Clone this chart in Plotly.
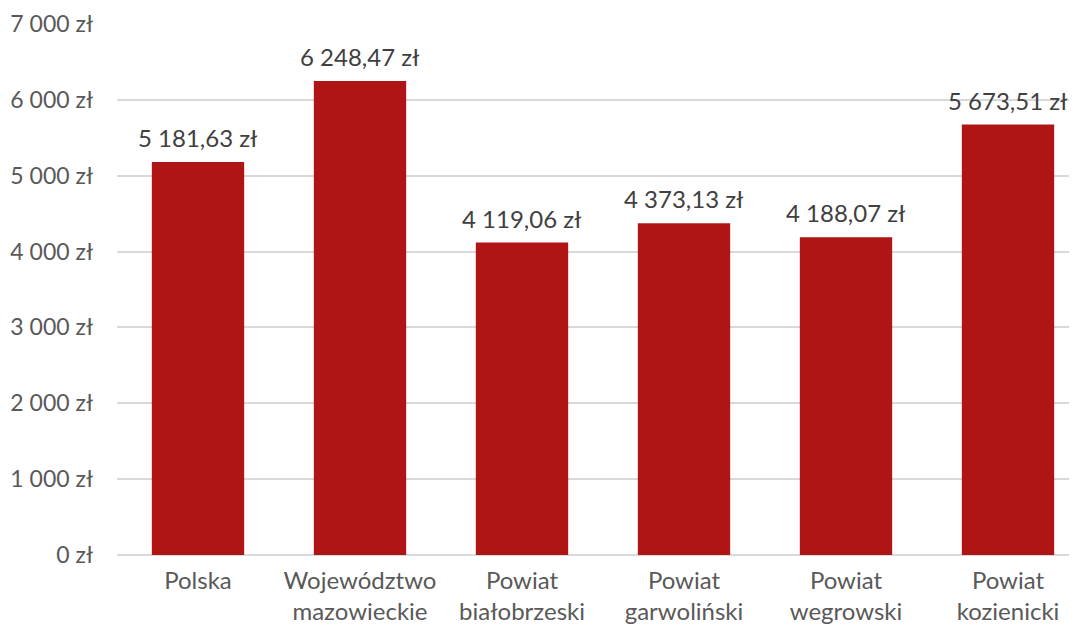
import plotly.graph_objects as go

categories = ["Polska", "Województwo<br>mazowieckie", "Powiat<br>białobrzeski",
              "Powiat<br>garwoliński", "Powiat<br>wegrowski", "Powiat<br>kozienicki"]
values = [5181.63, 6248.47, 4119.06, 4373.13, 4188.07, 5673.51]
tick_vals = [0, 1000, 2000, 3000, 4000, 5000, 6000, 7000]
tick_text = ["0 zł", "1 000 zł", "2 000 zł", "3 000 zł", "4 000 zł", "5 000 zł", "6 000 zł", "7 000 zł"]


def fmt(v):
    s = f"{v:,.2f}"
    return s.replace(",", " ").replace(".", ",") + " zł"


labels = [fmt(v) for v in values]
xs = list(range(len(categories)))

fig = go.Figure(go.Bar(
    x=xs, y=values,
    marker=dict(color="#AF1515", line=dict(width=0)),
    width=0.57, hoverinfo="skip",
))

for xi, v, lab in zip(xs, values, labels):
    fig.add_annotation(
        x=xi, y=v, xref="x", yref="y", text=lab, showarrow=False,
        yanchor="bottom", yshift=8,
        font=dict(family="Lato", size=24, color="#404040"),
    )

fig.update_layout(
    width=1069, height=618,
    margin=dict(l=109, r=0, t=16, b=71, autoexpand=False),
    paper_bgcolor="white", plot_bgcolor="white",
    font=dict(family="Lato", size=24, color="#595959"),
    showlegend=False,
)
fig.update_xaxes(
    tickvals=xs, ticktext=categories,
    range=[-0.5, -0.5 + 960 / 162], showgrid=False, zeroline=False,
    showline=False, ticks="", ticklabelstandoff=9, automargin=False,
    tickfont=dict(family="Lato", size=24, color="#595959"),
)
fig.update_yaxes(
    range=[0, 7000], tickvals=tick_vals, ticktext=tick_text,
    showgrid=True, gridcolor="#D9D9D9", gridwidth=1.5,
    zeroline=True, zerolinecolor="#D9D9D9", zerolinewidth=1.5,
    showline=False, ticks="", ticklabelstandoff=23, automargin=False,
    tickfont=dict(family="Lato", size=23, color="#595959"),
)

fig.write_html("out.html")
